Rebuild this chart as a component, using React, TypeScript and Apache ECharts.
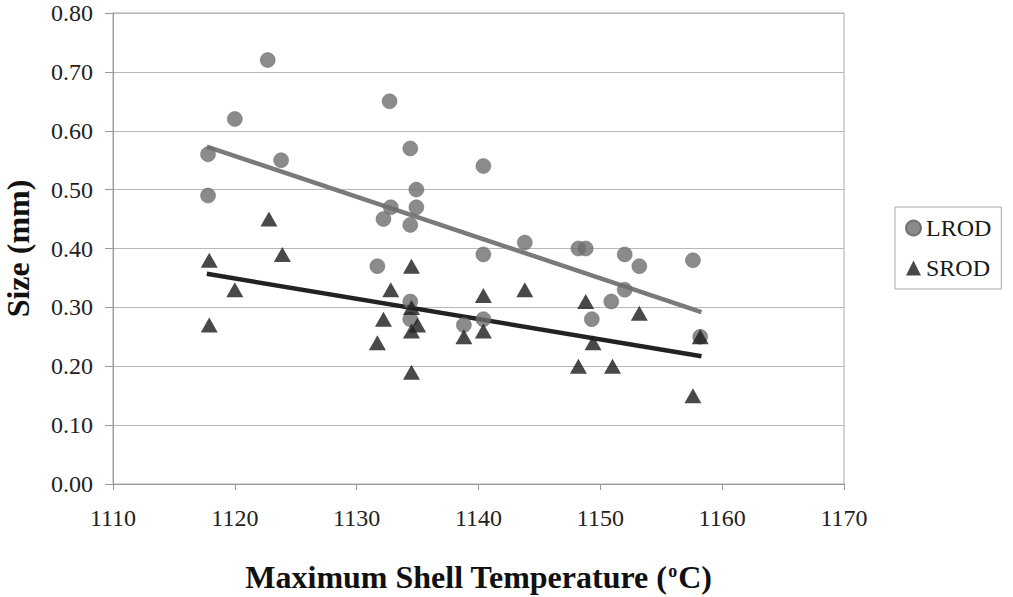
import React, { useEffect, useRef } from "react";
import * as echarts from "echarts";

const xTicks = [1110, 1120, 1130, 1140, 1150, 1160, 1170];
const yTicks = [0, 0.1, 0.2, 0.3, 0.4, 0.5, 0.6, 0.7, 0.8];

const lrodTemp = [1117.8, 1117.8, 1120.0, 1122.7, 1123.8, 1131.7, 1132.2, 1132.7, 1132.8, 1134.4, 1134.4, 1134.4, 1134.4, 1134.9, 1134.9, 1138.8, 1140.4, 1140.4, 1140.4, 1143.8, 1148.2, 1148.8, 1149.3, 1150.9, 1152.0, 1152.0, 1153.2, 1157.6, 1158.2];
const lrodSize = [0.56, 0.49, 0.62, 0.72, 0.55, 0.37, 0.45, 0.65, 0.47, 0.57, 0.44, 0.31, 0.28, 0.50, 0.47, 0.27, 0.54, 0.39, 0.28, 0.41, 0.40, 0.40, 0.28, 0.31, 0.39, 0.33, 0.37, 0.38, 0.25];

const srodTemp = [1117.9, 1117.9, 1120.0, 1122.8, 1123.9, 1131.7, 1132.2, 1132.8, 1134.5, 1134.5, 1134.5, 1134.5, 1135.0, 1138.8, 1140.4, 1140.4, 1143.8, 1148.2, 1148.8, 1149.4, 1151.0, 1153.2, 1157.6, 1158.2];
const srodSize = [0.38, 0.27, 0.33, 0.45, 0.39, 0.24, 0.28, 0.33, 0.37, 0.30, 0.26, 0.19, 0.27, 0.25, 0.32, 0.26, 0.33, 0.20, 0.31, 0.24, 0.20, 0.29, 0.15, 0.25];

const lrodTrendTemp = [1117.7, 1158.3];
const lrodTrendSize = [0.573, 0.292];
const srodTrendTemp = [1117.7, 1158.3];
const srodTrendSize = [0.357, 0.217];

const FONT = "'Liberation Serif', 'Times New Roman', serif";

export default function App() {
  const ref = useRef<HTMLDivElement>(null);
  useEffect(() => {
    if (!ref.current) return;
    const chart = echarts.init(ref.current, undefined, { renderer: "svg" });
    const zip = (a: number[], b: number[]) => a.map((v, i) => [v, b[i]]);
    chart.setOption({
      animation: false,
      backgroundColor: "#ffffff",
      textStyle: { fontFamily: FONT },
      grid: {
        left: 113,
        right: 169,
        top: 13,
        bottom: 113,
        outerBoundsMode: "none",
        containLabel: false,
        show: true,
        borderColor: "#a8a8a8",
        borderWidth: 1,
      },
      legend: {
        data: ["LROD", "SROD"],
        orient: "vertical",
        left: 895,
        top: 207,
        width: 111,
        padding: [9, 10, 9, 10],
        itemGap: 16,
        itemWidth: 15,
        itemHeight: 15,
        itemTextGap: 6,
        borderColor: "#a8a8a8",
        borderWidth: 1,
        backgroundColor: "#ffffff",
        textStyle: { fontFamily: FONT, fontSize: 24, color: "#1a1a1a", lineHeight: 24 },
      },
      xAxis: {
        type: "value",
        min: xTicks[0],
        max: xTicks[xTicks.length - 1],
        interval: 10,
        name: "{b|Maximum Shell Temperature (}{s|o}{b|C)}",
        nameLocation: "middle",
        nameGap: 76,
        nameTextStyle: {
          rich: {
            b: { fontFamily: FONT, fontSize: 32, fontWeight: "bold", color: "#111", lineHeight: 34 },
            s: { fontFamily: FONT, fontSize: 18, fontWeight: "bold", color: "#111", lineHeight: 34, padding: [0, 1, 12, 1] },
          },
        },
        axisLine: { show: true, lineStyle: { color: "#999", width: 1 } },
        axisTick: { show: true, inside: false, length: 6, lineStyle: { color: "#999" } },
        axisLabel: {
          margin: 22,
          fontFamily: FONT,
          fontSize: 24,
          color: "#222",
          formatter: (v: number) => String(v),
        },
        splitLine: { show: false },
      },
      yAxis: {
        type: "value",
        min: yTicks[0],
        max: yTicks[yTicks.length - 1],
        interval: 0.1,
        name: "Size (mm)",
        nameLocation: "middle",
        nameRotate: 90,
        nameGap: 79,
        nameTextStyle: { fontFamily: FONT, fontSize: 32, fontWeight: "bold", color: "#111" },
        axisLine: { show: true, lineStyle: { color: "#999", width: 1 } },
        axisTick: { show: true, inside: false, length: 8, lineStyle: { color: "#999" } },
        axisLabel: {
          margin: 20,
          fontFamily: FONT,
          fontSize: 24,
          color: "#222",
          formatter: (v: number) => v.toFixed(2),
        },
        splitLine: { show: true, lineStyle: { color: "#b8b8b8", width: 1 } },
      },
      series: [
        {
          name: "LROD trend",
          type: "line",
          data: zip(lrodTrendTemp, lrodTrendSize),
          showSymbol: false,
          symbol: "none",
          lineStyle: { color: "#7a7a7a", width: 4.5 },
          silent: true,
          z: 2,
        },
        {
          name: "SROD trend",
          type: "line",
          data: zip(srodTrendTemp, srodTrendSize),
          showSymbol: false,
          symbol: "none",
          lineStyle: { color: "#222222", width: 4.5 },
          silent: true,
          z: 2,
        },
        {
          name: "LROD",
          type: "scatter",
          data: zip(lrodTemp, lrodSize),
          symbol: "circle",
          symbolSize: 15,
          itemStyle: { color: "#6e6e6e", borderColor: "#5e5e5e", borderWidth: 0.5 },
          z: 3,
        },
        {
          name: "SROD",
          type: "scatter",
          data: zip(srodTemp, srodSize),
          symbol: "triangle",
          symbolSize: [17, 15],
          itemStyle: { color: "#1c1c1c" },
          z: 4,
        },
      ],
    });
    return () => chart.dispose();
  }, []);
  return (
    <div
      ref={ref}
      style={{ position: "absolute", left: 0, top: 0, width: 1013, height: 597 }}
    />
  );
}
